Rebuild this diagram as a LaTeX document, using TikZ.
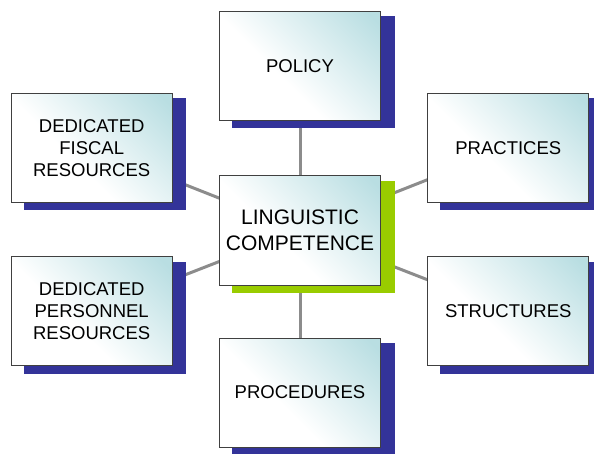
\documentclass[tikz,border=0pt]{standalone}
\usepackage{fontspec}
\setmainfont{Liberation Sans}
\usetikzlibrary{backgrounds,calc}
\definecolor{tealc}{RGB}{185,222,226}
\definecolor{navyshadow}{RGB}{51,51,153}
\definecolor{greenshadow}{RGB}{153,204,0}
\definecolor{linkgray}{RGB}{140,140,140}
\pgfdeclareverticalshading{boxshade}{100bp}{color(0bp)=(white); color(42bp)=(white); color(82bp)=(tealc); color(100bp)=(tealc)}
\tikzset{
  topicbox/.style={rectangle, draw=black!75, line width=1pt, shading=boxshade, shading angle=-45,
    minimum width=161pt, minimum height=109pt, inner sep=0pt, align=center,
    font=\fontsize{18.5}{22}\selectfont},
  centerbox/.style={topicbox, minimum height=110pt, font=\fontsize{21}{25.7}\selectfont},
  link/.style={draw=linkgray, line width=3pt},
  bluesh/.style={fill=navyshadow},
  greensh/.style={fill=greenshadow}
}
\begin{document}
\begin{tikzpicture}[x=1pt,y=-1pt]
\useasboundingbox (0,0) rectangle (594,453);
\node[centerbox] (center) at (300,230) {LINGUISTIC\\COMPETENCE};
\node[topicbox] (policy) at (300,65.8) {POLICY};
\node[topicbox] (fiscal) at (91.7,147.8) {DEDICATED\\FISCAL\\RESOURCES};
\node[topicbox] (personnel) at (91.7,311.3) {DEDICATED\\PERSONNEL\\RESOURCES};
\node[topicbox] (practices) at (508.3,147.8) {PRACTICES};
\node[topicbox] (structures) at (508.3,311.3) {STRUCTURES};
\node[topicbox] (procedures) at (300,392.5) {PROCEDURES};
\begin{scope}[on background layer]
  \foreach \n in {policy,fiscal,personnel,practices,structures,procedures}
    \draw[link] (center.center) -- (\n.center);
  \foreach \n in {policy,fiscal,personnel,practices,structures,procedures}
    \fill[bluesh] ($(\n.north west)+(13,5.5)$) rectangle ($(\n.south east)+(13.5,7.5)$);
  \fill[greensh] ($(center.north west)+(13,6.5)$) rectangle ($(center.south east)+(13.5,7.5)$);
\end{scope}
\end{tikzpicture}
\end{document}
